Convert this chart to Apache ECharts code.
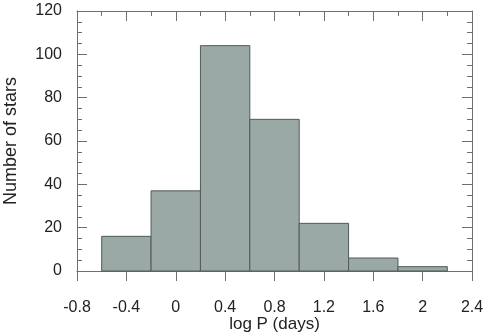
<!DOCTYPE html>
<html>
<head>
<meta charset="utf-8">
<script src="https://cdn.jsdelivr.net/npm/echarts@6/dist/echarts.min.js"></script>
<style>
  html, body { margin: 0; padding: 0; background: #fff; }
  #main { width: 485px; height: 336px; }
</style>
</head>
<body>
<div id="main"></div>
<script>
// histogram bins (log P) and counts
const binStart = [-0.6, -0.2, 0.2, 0.6, 1.0, 1.4, 1.8];
const binEnd   = [-0.2,  0.2, 0.6, 1.0, 1.4, 1.8, 2.2];
const counts   = [16, 37, 104, 70, 22, 6, 2];
const xTicks   = [-0.8, -0.4, 0, 0.4, 0.8, 1.2, 1.6, 2, 2.4];
const yTicks   = [0, 20, 40, 60, 80, 100, 120];

const chart = echarts.init(document.getElementById('main'));
const axisColor = '#6f6f6f';
const font = 'Liberation Sans, Arial, sans-serif';

let data = binStart.map((s, i) => [s, binEnd[i], counts[i]]);

const option = {
  backgroundColor: '#ffffff',
  animation: false,
  grid: { left: 77, right: 13, top: 11, bottom: 65, containLabel: false, outerBoundsMode: 'none' },
  xAxis: [{
    type: 'value',
    position: 'bottom',
    min: xTicks[0],
    max: xTicks[xTicks.length - 1],
    interval: 0.4,
    name: 'log P (days)',
    nameLocation: 'middle',
    nameGap: 45,
    nameMoveOverlap: false,
    nameTextStyle: { fontFamily: font, fontSize: 17, color: '#222' },
    axisLine: { onZero: false, lineStyle: { color: axisColor, width: 1 } },
    axisTick: { show: true, inside: false, length: 10, lineStyle: { color: axisColor } },
    splitLine: { show: false },
    axisLabel: {
      margin: 29, fontFamily: font, fontSize: 16, color: '#222',
      formatter: v => String(Math.round(v * 10) / 10)
    }
  }, {
    type: 'value',
    position: 'top',
    min: xTicks[0],
    max: xTicks[xTicks.length - 1],
    interval: 0.4,
    axisLine: { show: true, onZero: false, lineStyle: { color: axisColor } },
    axisTick: { show: true, inside: true, length: 10, lineStyle: { color: axisColor } },
    minorTick: { show: true, splitNumber: 2, length: 5, lineStyle: { color: axisColor } },
    axisLabel: { show: false },
    splitLine: { show: false }
  }],
  yAxis: [{
    type: 'value',
    position: 'left',
    min: yTicks[0],
    max: yTicks[yTicks.length - 1],
    interval: 20,
    name: 'Number of stars',
    nameLocation: 'middle',
    nameGap: 57,
    nameMoveOverlap: false,
    nameTextStyle: { fontFamily: font, fontSize: 18, color: '#222' },
    axisLine: { show: true, onZero: false, lineStyle: { color: axisColor } },
    axisTick: { show: true, inside: true, length: 10, lineStyle: { color: axisColor } },
    minorTick: { show: true, splitNumber: 4, length: 5, lineStyle: { color: axisColor } },
    splitLine: { show: false },
    axisLabel: { margin: 15, fontFamily: font, fontSize: 16, color: '#222' }
  }, {
    type: 'value',
    position: 'right',
    min: yTicks[0],
    max: yTicks[yTicks.length - 1],
    interval: 20,
    axisLine: { show: true, onZero: false, lineStyle: { color: axisColor } },
    axisTick: { show: true, inside: true, length: 10, lineStyle: { color: axisColor } },
    minorTick: { show: true, splitNumber: 4, length: 5, lineStyle: { color: axisColor } },
    splitLine: { show: false },
    axisLabel: { show: false }
  }],
  series: [{
    type: 'custom',
    xAxisIndex: 0,
    yAxisIndex: 0,
    data: data,
    renderItem: function (params, api) {
      const p0 = api.coord([api.value(0), api.value(2)]);
      const p1 = api.coord([api.value(1), 0]);
      return {
        type: 'rect',
        shape: { x: p0[0], y: p0[1], width: p1[0] - p0[0], height: p1[1] - p0[1] },
        style: { fill: '#9aa9a6', stroke: '#505a58', lineWidth: 1 }
      };
    }
  }]
};
chart.setOption(option);
</script>
</body>
</html>
